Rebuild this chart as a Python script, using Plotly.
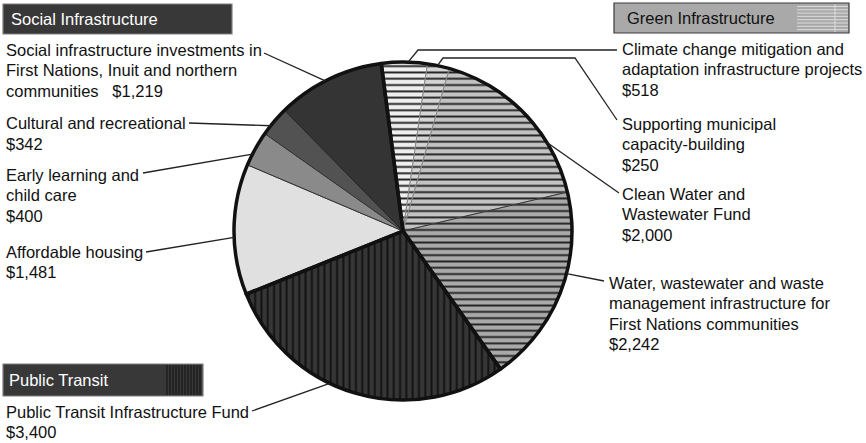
import math
import plotly.graph_objects as go

# Program spending by initiative ($ millions), clockwise from the top
categories = [
    "Climate change mitigation and adaptation infrastructure projects",
    "Supporting municipal capacity-building",
    "Clean Water and Wastewater Fund",
    "Water, wastewater and waste management infrastructure for First Nations communities",
    "Public Transit Infrastructure Fund",
    "Affordable housing",
    "Early learning and child care",
    "Cultural and recreational",
    "Social infrastructure investments in First Nations, Inuit and northern communities",
]
values = [518, 250, 2000, 2242, 3400, 1481, 400, 342, 1219]
streams = ["Green", "Green", "Green", "Green", "Transit",
           "Social", "Social", "Social", "Social"]
stream_names = ["Green", "Transit", "Social"]
stream_titles = {"Green": "Green Infrastructure",
                 "Transit": "Public Transit",
                 "Social": "Social Infrastructure"}

# Label lines as printed beside the pie
label_lines = [
    ["Climate change mitigation and", "adaptation infrastructure projects"],
    ["Supporting municipal", "capacity-building"],
    ["Clean Water and", "Wastewater Fund"],
    ["Water, wastewater and waste", "management infrastructure for",
     "First Nations communities"],
    ["Public Transit Infrastructure Fund"],
    ["Affordable housing"],
    ["Early learning and", "child care"],
    ["Cultural and recreational"],
    ["Social infrastructure investments in", "First Nations, Inuit and northern",
     "communities"],
]

W, H = 866, 443
CX, CY, R = 403, 231, 169
ROTATION = -7.4
FONT = "Liberation Sans, Arial, sans-serif"
FONT_SIZE = 16.5
LINE_STEP = 20.3


def px(x):
    return x / W


def py(y):
    return 1 - y / H


slice_colors = ["#efefef", "#d4d4d4", "#c2c2c2", "#a9a9a9", "#363636",
                "#e0e0e0", "#8a8a8a", "#525252", "#343434"]
pattern_shapes = ["-", "-", "-", "-", "|", "", "", "", ""]
pattern_fg = ["#222", "#222", "#222", "#222", "#111", "#000", "#000", "#000", "#000"]
edge_colors = ["#888", "#888", "#888", "#333", "#222", "#333", "#333", "#333", "#222"]

domain = dict(x=[px(CX - R), px(CX + R)], y=[py(CY + R), py(CY - R)])

fig = go.Figure()
fig.add_trace(go.Pie(
    labels=categories, values=values, sort=False, direction="clockwise",
    rotation=ROTATION, domain=domain, textinfo="none", hoverinfo="label+value",
    showlegend=False,
    marker=dict(
        colors=slice_colors,
        line=dict(color=edge_colors, width=1),
        pattern=dict(shape=pattern_shapes, fgcolor=pattern_fg, bgcolor=slice_colors,
                     size=6.3, solidity=0.3, fillmode="replace"),
    ),
))

# Stream totals: heavy outline around each funding stream
stream_totals = [sum(v for v, s in zip(values, streams) if s == name)
                 for name in stream_names]
fig.add_trace(go.Pie(
    labels=[stream_titles[n] for n in stream_names], values=stream_totals,
    sort=False, direction="clockwise", rotation=ROTATION, domain=domain,
    textinfo="none", hoverinfo="skip", showlegend=False,
    marker=dict(colors=["rgba(0,0,0,0)"] * 3, line=dict(color="#111", width=3.5)),
))

# Callout placement: text block (left x, first-line centre y), where the leader
# leaves the text, optional elbow points, and how far along the slice it lands.
callouts = [
    dict(x=620, y=49, start=(617, 50), via=[(418, 50)], frac=0.58),
    dict(x=620, y=124, start=(617, 120), via=[(575, 58), (443, 58)], frac=0.45),
    dict(x=620, y=194, start=(619, 193), via=[], frac=0.70),
    dict(x=607, y=283, start=(604, 281), via=[], frac=0.41),
    dict(x=4, y=412, start=(252, 411), via=[], frac=0.59),
    dict(x=4, y=252, start=(146, 252), via=[], frac=0.44),
    dict(x=4, y=175, start=(143, 173), via=[], frac=0.33),
    dict(x=4, y=123.5, start=(189, 123), via=[], frac=0.32),
    dict(x=4, y=50, start=(264, 53), via=[], frac=0.46),
]

total = sum(values)
shapes = []
annotations = []
cum = 0.0
for i, v in enumerate(values):
    a0 = ROTATION + cum / total * 360
    a1 = a0 + v / total * 360
    cum += v
    c = callouts[i]
    th = math.radians(a0 + c["frac"] * (a1 - a0))
    ex, ey = CX + R * math.sin(th), CY - R * math.cos(th)
    pts = [c["start"]] + c["via"] + [(ex, ey)]
    path = "M" + " L".join(f"{px(x):.5f},{py(y):.5f}" for x, y in pts)
    shapes.append(dict(type="path", xref="paper", yref="paper", path=path,
                       line=dict(color="#222", width=1.3)))
    lines = list(label_lines[i])
    money = f"${v:,}"
    if i == 8:
        lines[-1] = lines[-1] + "&nbsp;&nbsp; " + money
    else:
        lines.append(money)
    for k, line in enumerate(lines):
        annotations.append(dict(
            xref="paper", yref="paper", x=px(c["x"]), y=py(c["y"] + k * LINE_STEP),
            xanchor="left", yanchor="middle", align="left", showarrow=False,
            text=line, font=dict(family=FONT, size=FONT_SIZE, color="#111"),
        ))


# Stream header boxes
def header(x0, y0, x1, y1, fill, edge, text, tcolor, tx):
    shapes.append(dict(type="rect", xref="paper", yref="paper",
                       x0=px(x0), y0=py(y0), x1=px(x1), y1=py(y1),
                       fillcolor=fill, line=dict(color=edge, width=1.2)))
    annotations.append(dict(
        xref="paper", yref="paper", x=px(tx), y=py((y0 + y1) / 2),
        xanchor="left", yanchor="middle", showarrow=False, text=text,
        font=dict(family=FONT, size=FONT_SIZE, color=tcolor)))


header(3, 4, 232, 34, "#383838", "#808080", stream_titles["Social"], "#ffffff", 9)
header(614, 3, 849, 33, "#a9a9a9", "#3a3a3a", stream_titles["Green"], "#111111", 625)
header(3, 364, 203, 396, "#383838", "#808080", stream_titles["Transit"], "#ffffff", 7)

# Hatch swatches inside the Green and Transit headers
y = 6.5
while y < 32:
    shapes.append(dict(type="line", xref="paper", yref="paper",
                       x0=px(797), x1=px(848), y0=py(y), y1=py(y),
                       line=dict(color="#dcdcdc", width=1)))
    y += 3.3
shapes.append(dict(type="line", xref="paper", yref="paper",
                   x0=px(835), x1=px(835), y0=py(4), y1=py(32),
                   line=dict(color="#dcdcdc", width=1)))
x = 167
while x < 203:
    shapes.append(dict(type="line", xref="paper", yref="paper",
                       x0=px(x), x1=px(x), y0=py(365), y1=py(395),
                       line=dict(color="#111111", width=1)))
    x += 3.0

fig.update_layout(
    width=W, height=H, margin=dict(l=0, r=0, t=0, b=0),
    paper_bgcolor="#ffffff", plot_bgcolor="#ffffff",
    shapes=shapes, annotations=annotations, showlegend=False,
)

fig.write_html("out.html")
